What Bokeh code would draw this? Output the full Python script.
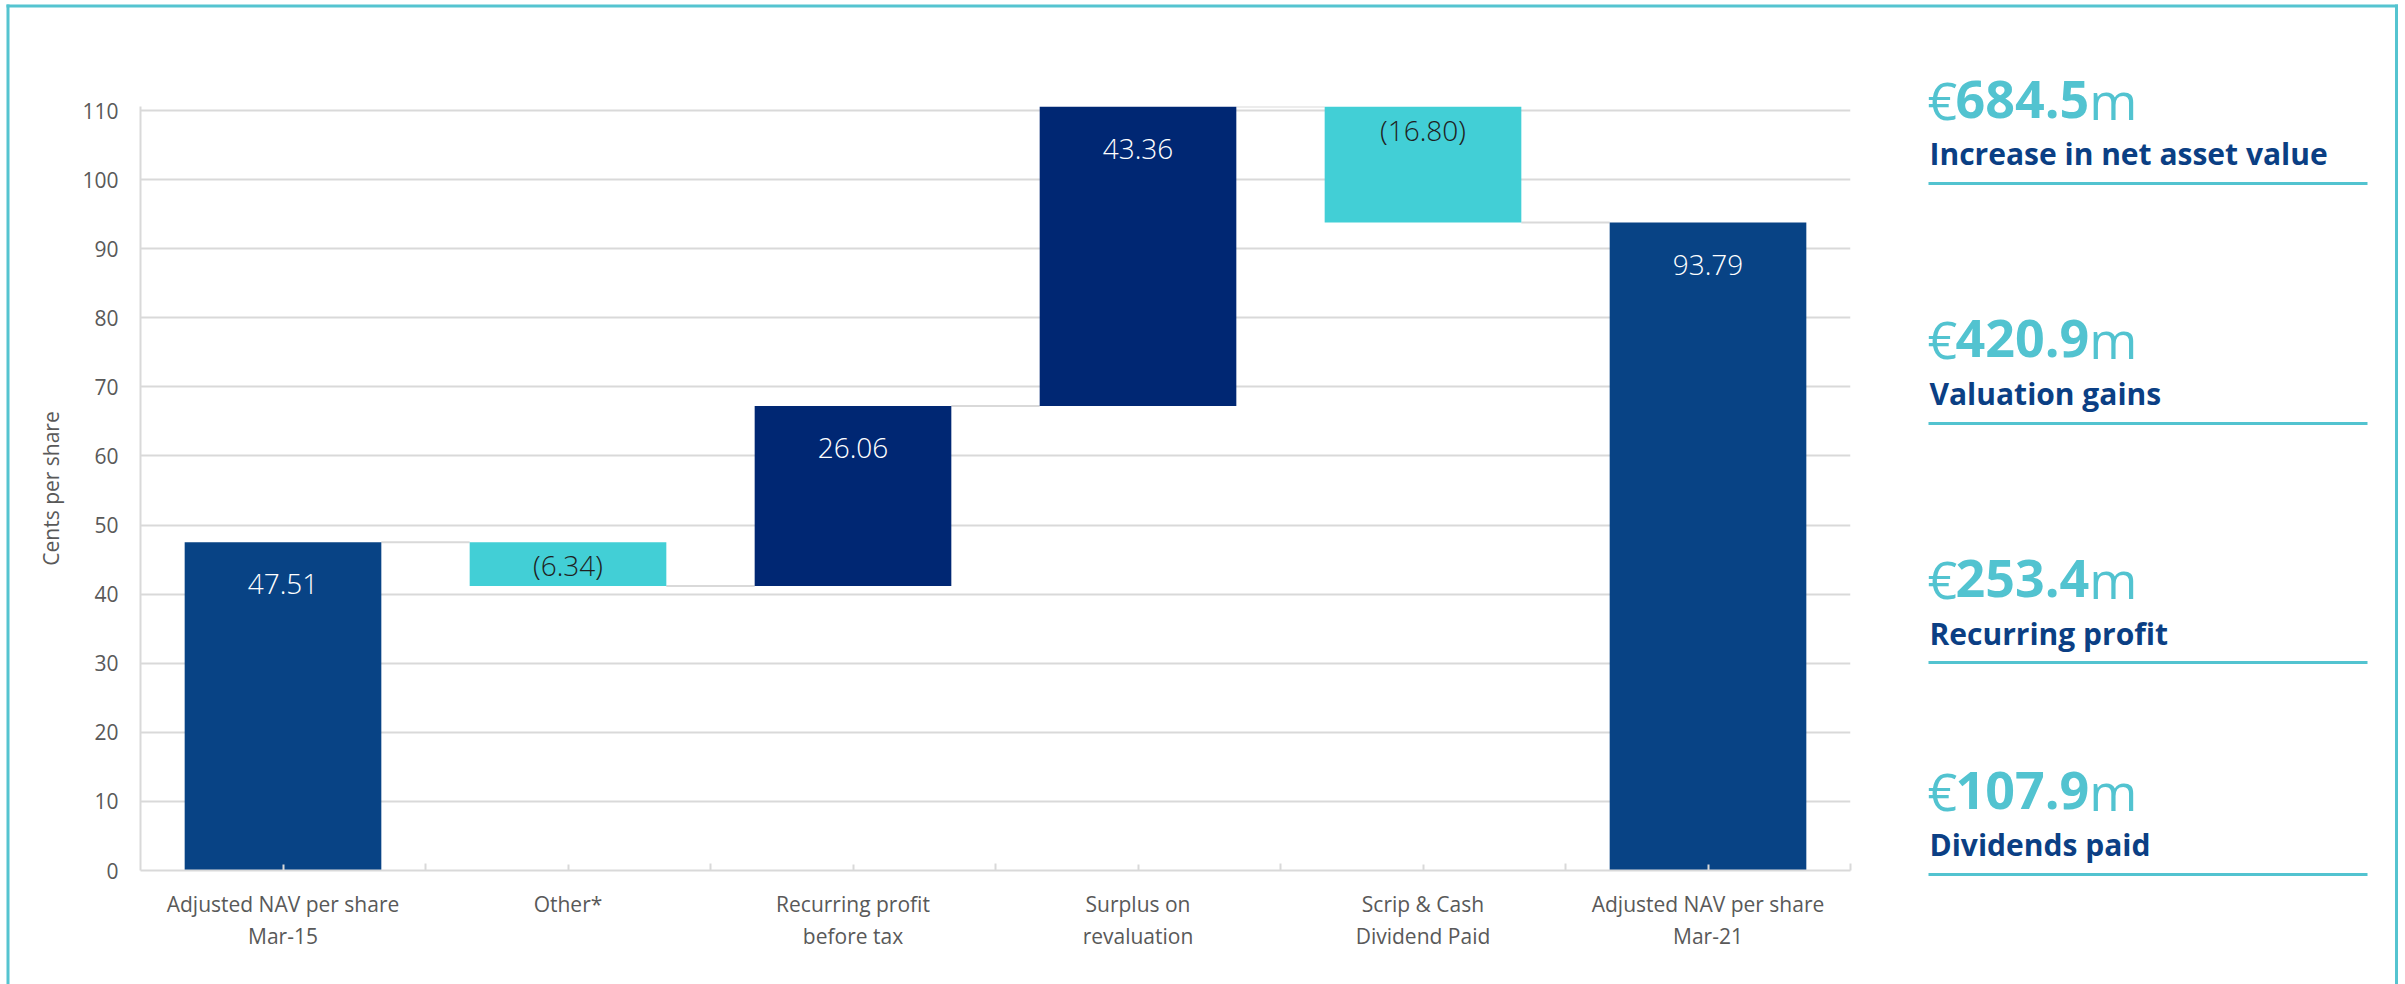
from bokeh.plotting import figure
from bokeh.models import Range1d, FixedTicker, ColumnDataSource, LinearScale
from bokeh.embed import file_html
from bokeh.resources import INLINE
from bokeh.core.properties import value

# ---------------- data ----------------
categories = [
    "Adjusted NAV per share\nMar-15",
    "Other*",
    "Recurring profit\nbefore tax",
    "Surplus on\nrevaluation",
    "Scrip & Cash\nDividend Paid",
    "Adjusted NAV per share\nMar-21",
]
step_values = [47.51, -6.34, 26.06, 43.36, -16.80, 93.79]
step_kinds = ["total", "delta", "delta", "delta", "delta", "total"]
y_ticks = [0, 10, 20, 30, 40, 50, 60, 70, 80, 90, 100, 110]
y_axis_title = "Cents per share"

kpi_prefix = "€"
kpi_values = ["684.5", "420.9", "253.4", "107.9"]
kpi_suffix = "m"
kpi_labels = ["Increase in net asset value", "Valuation gains",
              "Recurring profit", "Dividends paid"]

# ---------------- styles ----------------
TOTAL_BLUE = "#084385"
UP_NAVY = "#002773"
DOWN_CYAN = "#42CFD6"
GRID = "#D9D9D9"
AXIS_TEXT = "#595959"
FRAME_CYAN = "#55C4D0"
KPI_CYAN = "#52C3D0"
KPI_BLUE = "#0B3F84"
FONT = "Open Sans"
LIGHT_FONT = "Open Sans Light, Open Sans"

W, H = 2405, 984
FRAME_L, FRAME_R, FRAME_T, FRAME_B = 140, 1850, 106, 870

# ---------------- waterfall geometry from data ----------------
ncat = len(categories)
centers = [i + 0.5 for i in range(ncat)]          # slot centres on the category axis
bottoms, tops, colors, labels, label_colors = [], [], [], [], []
levels_after = []
level = 0.0
for v, k in zip(step_values, step_kinds):
    if k == "total":
        b, t = 0.0, v
        level = v
        colors.append(TOTAL_BLUE)
    else:
        b, t = level, level + v
        level = level + v
        colors.append(UP_NAVY if v >= 0 else DOWN_CYAN)
    levels_after.append(level)
    bottoms.append(min(b, t))
    tops.append(max(b, t))
    labels.append(f"{v:.2f}" if v >= 0 else f"({-v:.2f})")
    label_colors.append("#FFFFFF" if (k == "total" or v >= 0) else "#1F1F1F")

y_end = max(tops)
px_per_unit = (FRAME_B - FRAME_T) / y_end
BAR_W = 0.69

label_y = []
for i, (v, k) in enumerate(zip(step_values, step_kinds)):
    off = 42 if (k == "total" or v >= 0) else 23
    label_y.append(tops[i] - off / px_per_unit)

bar_src = ColumnDataSource(dict(x=centers, bottom=bottoms, top=tops, color=colors,
                                label=labels, label_y=label_y, label_color=label_colors))

p = figure(x_range=Range1d(0, ncat), y_range=Range1d(0, y_end),
           width=W, height=H,
           min_border_left=FRAME_L, min_border_right=W - FRAME_R,
           min_border_top=FRAME_T, min_border_bottom=H - FRAME_B,
           output_backend="svg", toolbar_location=None)
p.outline_line_color = None
p.background_fill_color = "#FFFFFF"
p.border_fill_color = "#FFFFFF"

# page-pixel coordinate system for decorations outside the chart frame
p.extra_x_ranges = {"px": Range1d(FRAME_L, FRAME_R)}
p.extra_x_scales = {"px": LinearScale()}
p.extra_y_ranges = {"py": Range1d(FRAME_B, FRAME_T)}
p.extra_y_scales = {"py": LinearScale()}

p.xgrid.visible = False
p.ygrid.grid_line_color = GRID
p.ygrid.grid_line_width = 2
p.yaxis.ticker = FixedTicker(ticks=y_ticks)
p.xaxis.ticker = FixedTicker(ticks=centers, minor_ticks=list(range(1, ncat + 1)))
p.xaxis.major_label_overrides = {c: lab for c, lab in zip(centers, categories)}

for ax in (p.xaxis, p.yaxis):
    ax.axis_line_color = GRID
    ax.axis_line_width = 2
    ax.major_label_text_font = FONT
    ax.major_label_text_font_size = "21px"
    ax.major_label_text_color = AXIS_TEXT

p.yaxis.major_tick_line_color = None
p.yaxis.minor_tick_line_color = None
p.yaxis.major_label_standoff = 16
p.yaxis.axis_label = y_axis_title
p.yaxis.axis_label_text_font = FONT
p.yaxis.axis_label_text_font_size = "21px"
p.yaxis.axis_label_text_font_style = "normal"
p.yaxis.axis_label_text_color = AXIS_TEXT
p.yaxis.axis_label_standoff = 14

p.xaxis.major_tick_in = 6
p.xaxis.major_tick_out = 0
p.xaxis.major_tick_line_color = GRID
p.xaxis.major_tick_line_width = 2
p.xaxis.minor_tick_in = 7
p.xaxis.minor_tick_out = 0
p.xaxis.minor_tick_line_color = GRID
p.xaxis.minor_tick_line_width = 2
p.xaxis.major_label_standoff = 19
p.xaxis.major_label_text_line_height = 1.15

# connectors between bars
conn = ColumnDataSource(dict(
    x0=[centers[i] + BAR_W / 2 for i in range(ncat - 1)],
    x1=[centers[i + 1] - BAR_W / 2 for i in range(ncat - 1)],
    y=[levels_after[i] for i in range(ncat - 1)],
))
p.segment(x0="x0", y0="y", x1="x1", y1="y", source=conn, line_color=GRID, line_width=2)

p.vbar(x="x", bottom="bottom", top="top", width=BAR_W, source=bar_src,
       fill_color="color", line_color=None)
p.text(x="x", y="label_y", text="label", source=bar_src, text_color="label_color",
       text_font=value(LIGHT_FONT), text_font_size="28px",
       text_align="center", text_baseline="middle")

# ---------------- right KPI panel (page pixel coordinates) ----------------
NUM_PX, LAB_PX = 52, 30
BASE_FIX = 0.31   # renderer places alphabetic baselines ~0.31em low; compensate
num_baselines = [115 - BASE_FIX * NUM_PX, 354 - BASE_FIX * NUM_PX,
                 594 - BASE_FIX * NUM_PX, 806 - BASE_FIX * NUM_PX]
label_baselines = [162 - BASE_FIX * LAB_PX, 402 - BASE_FIX * LAB_PX,
                   642 - BASE_FIX * LAB_PX, 853 - BASE_FIX * LAB_PX]
rule_y = [183, 423, 662, 874]
X_EURO, X_NUM = 1927, 1955
n = len(kpi_values)
kw = dict(x_range_name="px", y_range_name="py", level="overlay")

p.text(x=[X_EURO] * n, y=num_baselines, text=[kpi_prefix] * n,
       text_font=value(FONT), text_font_size=f"{NUM_PX}px", text_color=KPI_CYAN,
       text_baseline="alphabetic", text_align="left", **kw)
p.text(x=[X_NUM] * n, y=num_baselines, text=kpi_values,
       text_font=value(FONT), text_font_size=f"{NUM_PX}px", text_font_style="bold",
       text_color=KPI_CYAN, text_baseline="alphabetic", text_align="left", **kw)
suffix_x = [X_NUM + NUM_PX * (0.572 * sum(ch.isdigit() for ch in s) + 0.286 * s.count("."))
            for s in kpi_values]
p.text(x=suffix_x, y=num_baselines, text=[kpi_suffix] * n,
       text_font=value(FONT), text_font_size=f"{NUM_PX}px", text_color=KPI_CYAN,
       text_baseline="alphabetic", text_align="left", **kw)
p.text(x=[1929] * n, y=label_baselines, text=kpi_labels,
       text_font=value(FONT), text_font_size=f"{LAB_PX}px", text_font_style="bold",
       text_color=KPI_BLUE, text_baseline="alphabetic", text_align="left", **kw)
p.segment(x0=[1928] * n, x1=[2367] * n, y0=rule_y, y1=rule_y,
          line_color=KPI_CYAN, line_width=3, **kw)

# outer frame (top, left, right; open at the bottom)
p.segment(x0=[6, 7.5, 2396], y0=[5.5, 4, 4], x1=[2397.5, 7.5, 2396], y1=[5.5, 990, 990],
          line_color=FRAME_CYAN, line_width=3, **kw)

open("out.html", "w").write(file_html(p, INLINE))
